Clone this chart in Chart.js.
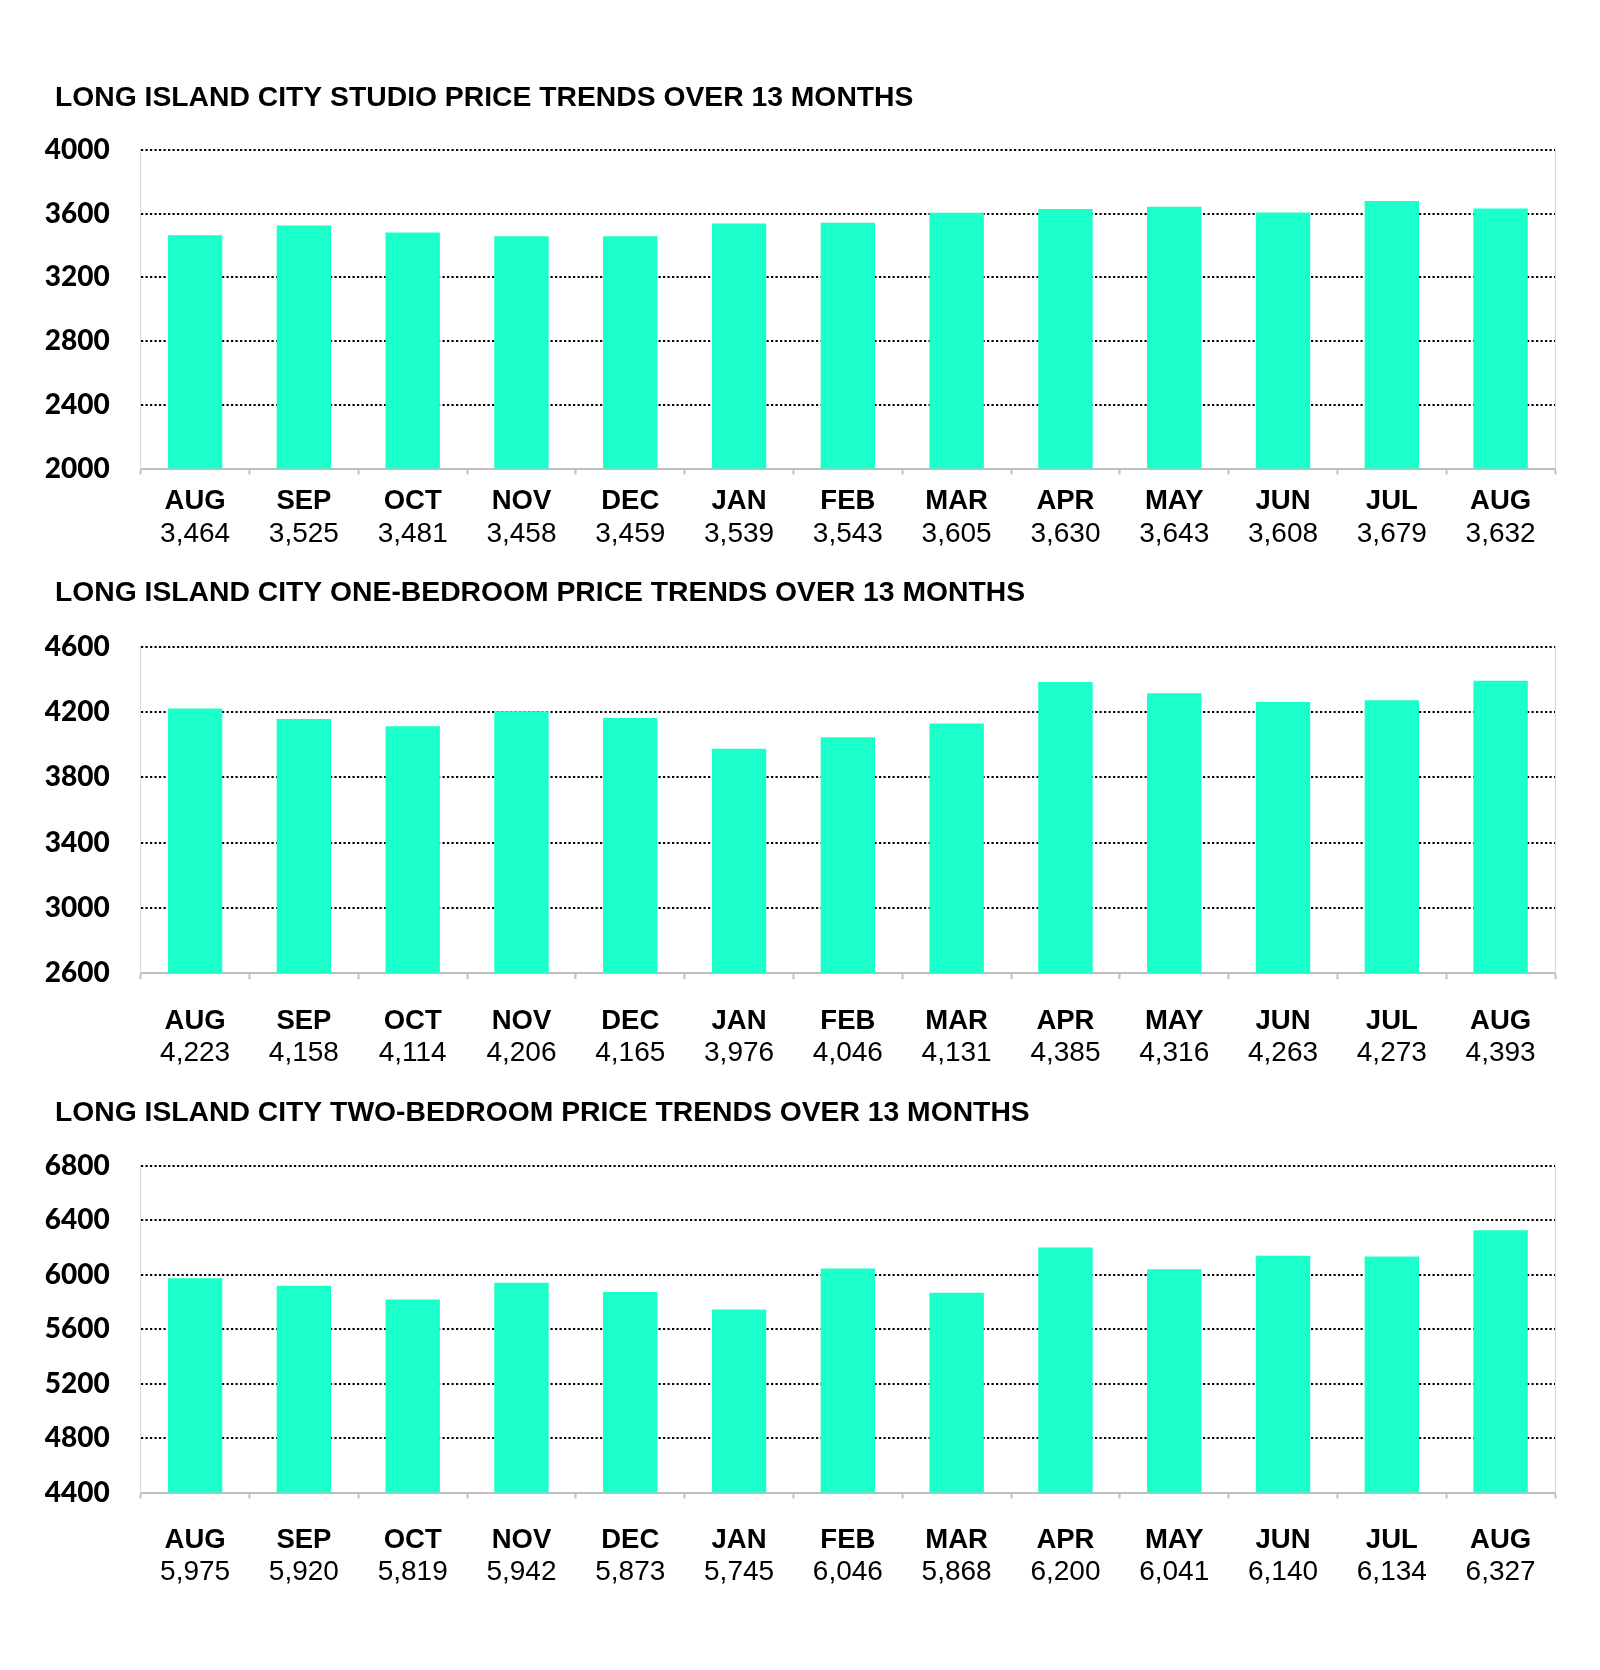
<!DOCTYPE html>
<html>
<head>
<meta charset="utf-8">
<script src="https://cdn.jsdelivr.net/npm/chart.js@4.4.1/dist/chart.umd.min.js"></script>
<style>
  body { margin: 0; background: #fff; width: 1600px; height: 1670px; position: relative; overflow: hidden; }
  .box { position: absolute; left: 0; width: 1600px; }
</style>
</head>
<body>
<div class="box" style="top:81px;height:476px"><canvas id="studioChart"></canvas></div>
<div class="box" style="top:576px;height:500px"><canvas id="oneBedChart"></canvas></div>
<div class="box" style="top:1096px;height:499px"><canvas id="twoBedChart"></canvas></div>
<script>
// months shown under each bar
const months = ['AUG', 'SEP', 'OCT', 'NOV', 'DEC', 'JAN', 'FEB', 'MAR', 'APR', 'MAY', 'JUN', 'JUL', 'AUG'];

// average rents
const studioPrices = [3464, 3525, 3481, 3458, 3459, 3539, 3543, 3605, 3630, 3643, 3608, 3679, 3632];
const oneBedPrices = [4223, 4158, 4114, 4206, 4165, 3976, 4046, 4131, 4385, 4316, 4263, 4273, 4393];
const twoBedPrices = [5975, 5920, 5819, 5942, 5873, 5745, 6046, 5868, 6200, 6041, 6140, 6134, 6327];

const BAR_COLOR = '#1BFFCB';
const AXIS_GRAY = '#bfbfbf';

// title sits a bit to the right of the y labels
const titleShift = {
    id: 'titleShift',
    afterLayout(chart) {
        if (chart.titleBlock) chart.titleBlock.left += 11;
    }
};

function makeChart(id, title, values, yMin, yMax, layout) {
    return new Chart(id, {
        type: 'bar',
        data: {
            labels: months,
            datasets: [{
                data: values,
                backgroundColor: BAR_COLOR,
                borderWidth: 0,
                barPercentage: 1,
                categoryPercentage: 0.5
            }]
        },
        plugins: [titleShift],
        options: {
            responsive: true,
            maintainAspectRatio: false,
            animation: false,
            layout: { padding: { left: 44, right: 45, top: 0, bottom: 0 } },
            scales: {
                x: {
                    weight: 0,
                    grid: {
                        display: true,
                        drawOnChartArea: false,
                        drawTicks: true,
                        tickLength: 6,
                        tickWidth: 2,
                        tickColor: AXIS_GRAY
                    },
                    border: { display: true, color: AXIS_GRAY, width: 2 },
                    ticks: {
                        color: '#000',
                        padding: layout.monthPad,
                        maxRotation: 0,
                        autoSkip: false,
                        font: { family: 'Liberation Sans, Arial', size: 27.5, weight: 'bold', lineHeight: 1.2 }
                    },
                    afterFit: s => { s.height = layout.monthH; }
                },
                x2: {
                    type: 'category',
                    labels: values.map(v => v.toLocaleString('en-US')),
                    position: 'bottom',
                    offset: true,
                    weight: 1,
                    grid: { display: false, drawTicks: false },
                    border: { display: false },
                    ticks: {
                        color: '#000',
                        padding: 0,
                        maxRotation: 0,
                        autoSkip: false,
                        font: { family: 'Liberation Sans, Arial', size: 28, lineHeight: 1.2 }
                    },
                    afterFit: s => { s.height = 40; }
                },
                y: {
                    min: yMin,
                    max: yMax,
                    grid: {
                        drawTicks: false,
                        lineWidth: 2,
                        color: ctx => (ctx.tick && ctx.tick.value === yMin) ? 'rgba(0,0,0,0)' : '#000'
                    },
                    border: { display: true, color: '#d9d9d9', width: 1, dash: [2.2, 2.3] },
                    ticks: {
                        stepSize: 400,
                        padding: 31,
                        color: '#000',
                        font: { family: 'Lato', size: 28, weight: 900 },
                        callback: v => v
                    },
                    afterFit: s => { s.width = 96.7; }
                },
                y2: {
                    position: 'right',
                    grid: { display: false, drawTicks: false },
                    ticks: { display: false },
                    border: { display: true, color: '#d9d9d9', width: 1 },
                    afterFit: s => { s.width = 0; }
                }
            },
            plugins: {
                legend: { display: false },
                tooltip: { enabled: false },
                title: {
                    display: true,
                    text: title,
                    align: 'start',
                    color: '#000',
                    padding: { top: 0, bottom: layout.titleGap },
                    font: { family: 'Liberation Sans, Arial', size: 28.3, weight: 'bold', lineHeight: 1.2 }
                }
            }
        }
    });
}

const studioChart = makeChart('studioChart', 'LONG ISLAND CITY STUDIO PRICE TRENDS OVER 13 MONTHS',
    studioPrices, 2000, 4000, { titleGap: 35, monthPad: 10.7, monthH: 48.5 });

const oneBedChart = makeChart('oneBedChart', 'LONG ISLAND CITY ONE-BEDROOM PRICE TRENDS OVER 13 MONTHS',
    oneBedPrices, 2600, 4600, { titleGap: 37, monthPad: 26.3, monthH: 62.9 });

const twoBedChart = makeChart('twoBedChart', 'LONG ISLAND CITY TWO-BEDROOM PRICE TRENDS OVER 13 MONTHS',
    twoBedPrices, 4400, 6800, { titleGap: 36, monthPad: 25.3, monthH: 62.4 });
</script>
</body>
</html>
